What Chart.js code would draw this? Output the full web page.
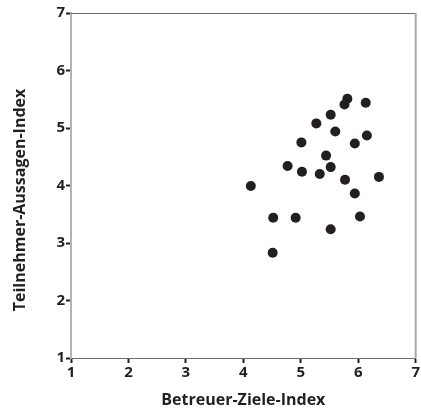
<!DOCTYPE html>
<html>
<head>
<meta charset="utf-8">
<script src="https://cdn.jsdelivr.net/npm/chart.js@4/dist/chart.umd.min.js"></script>
<style>
  html, body { margin: 0; padding: 0; background: #fff; }
  #wrap { position: relative; width: 421px; height: 414px; }
</style>
</head>
<body>
<div id="wrap"><canvas id="grafStreu" width="421" height="414"></canvas></div>
<script>
//-> DATEN...
const betreuerZiele = [5.81, 5.76, 6.13, 5.52, 5.27, 5.60, 6.15, 5.94, 5.01, 5.44, 4.77, 5.02,
                       5.33, 5.52, 5.77, 6.36, 5.94, 4.13, 4.52, 4.91, 6.03, 5.52, 4.51];
const teilnehmerAussagen = [5.51, 5.41, 5.44, 5.23, 5.08, 4.94, 4.87, 4.73, 4.75, 4.52, 4.34, 4.24,
                            4.20, 4.32, 4.10, 4.15, 3.86, 3.99, 3.44, 3.44, 3.46, 3.24, 2.83];
const achsenTicks = [1, 2, 3, 4, 5, 6, 7];
const titelX = 'Betreuer-Ziele-Index';
const titelY = 'Teilnehmer-Aussagen-Index';

const schrift = '"Open Sans", "Noto Sans", sans-serif';
const dunkel = '#231f20';

let punkte = [];
for (i = 0; i < betreuerZiele.length; i++) {
   punkte.push({ x: betreuerZiele[i], y: teilnehmerAussagen[i] });
}

//-> rahmen oben/rechts + y-titel
const rahmen = {
   id: 'rahmen',
   beforeDatasetsDraw(chart) {
      const { ctx, chartArea: a } = chart;
      ctx.save();
      ctx.strokeStyle = '#6d6d6d';
      ctx.lineWidth = 1;
      ctx.beginPath();
      ctx.moveTo(a.left, a.top + 0.5);
      ctx.lineTo(a.right, a.top + 0.5);
      ctx.stroke();
      ctx.strokeStyle = '#a8a8a8';
      ctx.lineWidth = 2;
      ctx.beginPath();
      ctx.moveTo(a.right, a.top);
      ctx.lineTo(a.right, a.bottom);
      ctx.stroke();
      ctx.restore();
   },
   afterDraw(chart) {
      const ctx = chart.ctx;
      ctx.save();
      ctx.translate(20, 200);
      ctx.rotate(-Math.PI / 2);
      ctx.font = 'bold 16px ' + schrift;
      ctx.fillStyle = dunkel;
      ctx.textAlign = 'center';
      ctx.textBaseline = 'middle';
      ctx.fillText(titelY, 0, 0);
      ctx.restore();
   }
};

var grafStreu = document.getElementById('grafStreu').getContext('2d');
var chartjs = new Chart(grafStreu, {
   type: 'scatter',
   data: {
      datasets: [{
         data: punkte,
         pointRadius: 5,
         pointHoverRadius: 5,
         backgroundColor: dunkel,
         borderColor: dunkel,
         borderWidth: 0
      }]
   },
   options: {
      responsive: false,
      animation: false,
      layout: { padding: { top: 13, right: 5, left: 0, bottom: 0 } },
      plugins: { legend: { display: false }, tooltip: { enabled: false } },
      scales: {
         x: {
            type: 'linear', min: 1, max: 7,
            afterBuildTicks: s => { s.ticks = achsenTicks.map(v => ({ value: v })); },
            afterFit: s => { s.height = 56; },
            border: { color: '#6d6d6d', width: 1 },
            grid: { drawOnChartArea: false, tickLength: 5, tickColor: dunkel, tickWidth: 2 },
            ticks: { color: dunkel, padding: 1, font: { family: schrift, size: 15, weight: 'bold' } },
            title: { display: true, text: titelX, color: dunkel, padding: { top: 6 },
                     font: { family: schrift, size: 16, weight: 'bold' } }
         },
         y: {
            type: 'linear', min: 1, max: 7,
            afterBuildTicks: s => { s.ticks = achsenTicks.map(v => ({ value: v })); },
            afterFit: s => { s.width = 71; },
            border: { color: '#b3b3b3', width: 2 },
            grid: { drawOnChartArea: false, tickLength: 5, tickColor: dunkel, tickWidth: 2 },
            ticks: { color: dunkel, padding: 1, font: { family: schrift, size: 15, weight: 'bold' } }
         }
      }
   },
   plugins: [rahmen]
});
</script>
</body>
</html>
